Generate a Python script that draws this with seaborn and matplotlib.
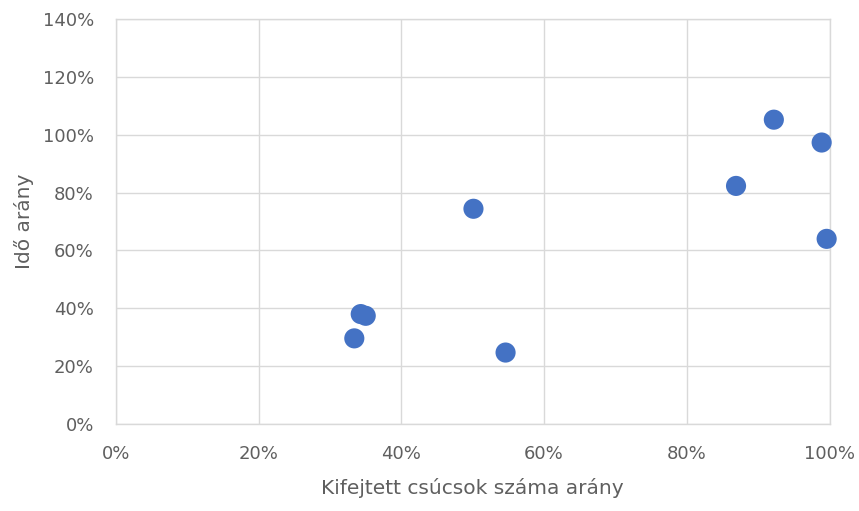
import matplotlib
matplotlib.use("Agg")
import matplotlib.pyplot as plt
from matplotlib.ticker import PercentFormatter, MultipleLocator
import seaborn as sns
import pandas as pd

# Arány értékek (törtként)
kifejtett_arany = [0.343, 0.350, 0.334, 0.546, 0.501, 0.922, 0.989, 0.869, 0.996]
ido_arany = [0.380, 0.374, 0.296, 0.247, 0.744, 1.052, 0.973, 0.823, 0.640]

df = pd.DataFrame({"x": kifejtett_arany, "y": ido_arany})

sns.set_theme(style="white")
plt.rcParams["font.family"] = ["DejaVu Sans"]

fig = plt.figure(figsize=(8.59, 5.11), dpi=100)
ax = fig.add_axes([116 / 859, 87 / 511, 713.5 / 859, 405 / 511])

sns.scatterplot(data=df, x="x", y="y", ax=ax, s=210, color="#4472C4",
                edgecolor="none", linewidth=0, clip_on=False, zorder=3)

ax.set_xlim(0, 1.0)
ax.set_ylim(0, 1.4)
ax.xaxis.set_major_locator(MultipleLocator(0.2))
ax.yaxis.set_major_locator(MultipleLocator(0.2))
ax.xaxis.set_major_formatter(PercentFormatter(1.0, decimals=0))
ax.yaxis.set_major_formatter(PercentFormatter(1.0, decimals=0))

ax.grid(True, color="#D9D9D9", linewidth=1.0)
ax.set_axisbelow(True)
for side, sp in ax.spines.items():
    sp.set_visible(True)
    sp.set_color("#D9D9D9")
    sp.set_linewidth(1.0)

ax.tick_params(axis="both", length=0, labelsize=13, labelcolor="#5F5F5F")
ax.tick_params(axis="x", pad=15)
ax.tick_params(axis="y", pad=16)

ax.set_xlabel("Kifejtett csúcsok száma arány", fontsize=14.5, color="#5F5F5F", labelpad=11)
ax.set_ylabel("Idő arány", fontsize=14.5, color="#5F5F5F", labelpad=6)

fig.savefig("out.png", dpi=100, facecolor="white")
